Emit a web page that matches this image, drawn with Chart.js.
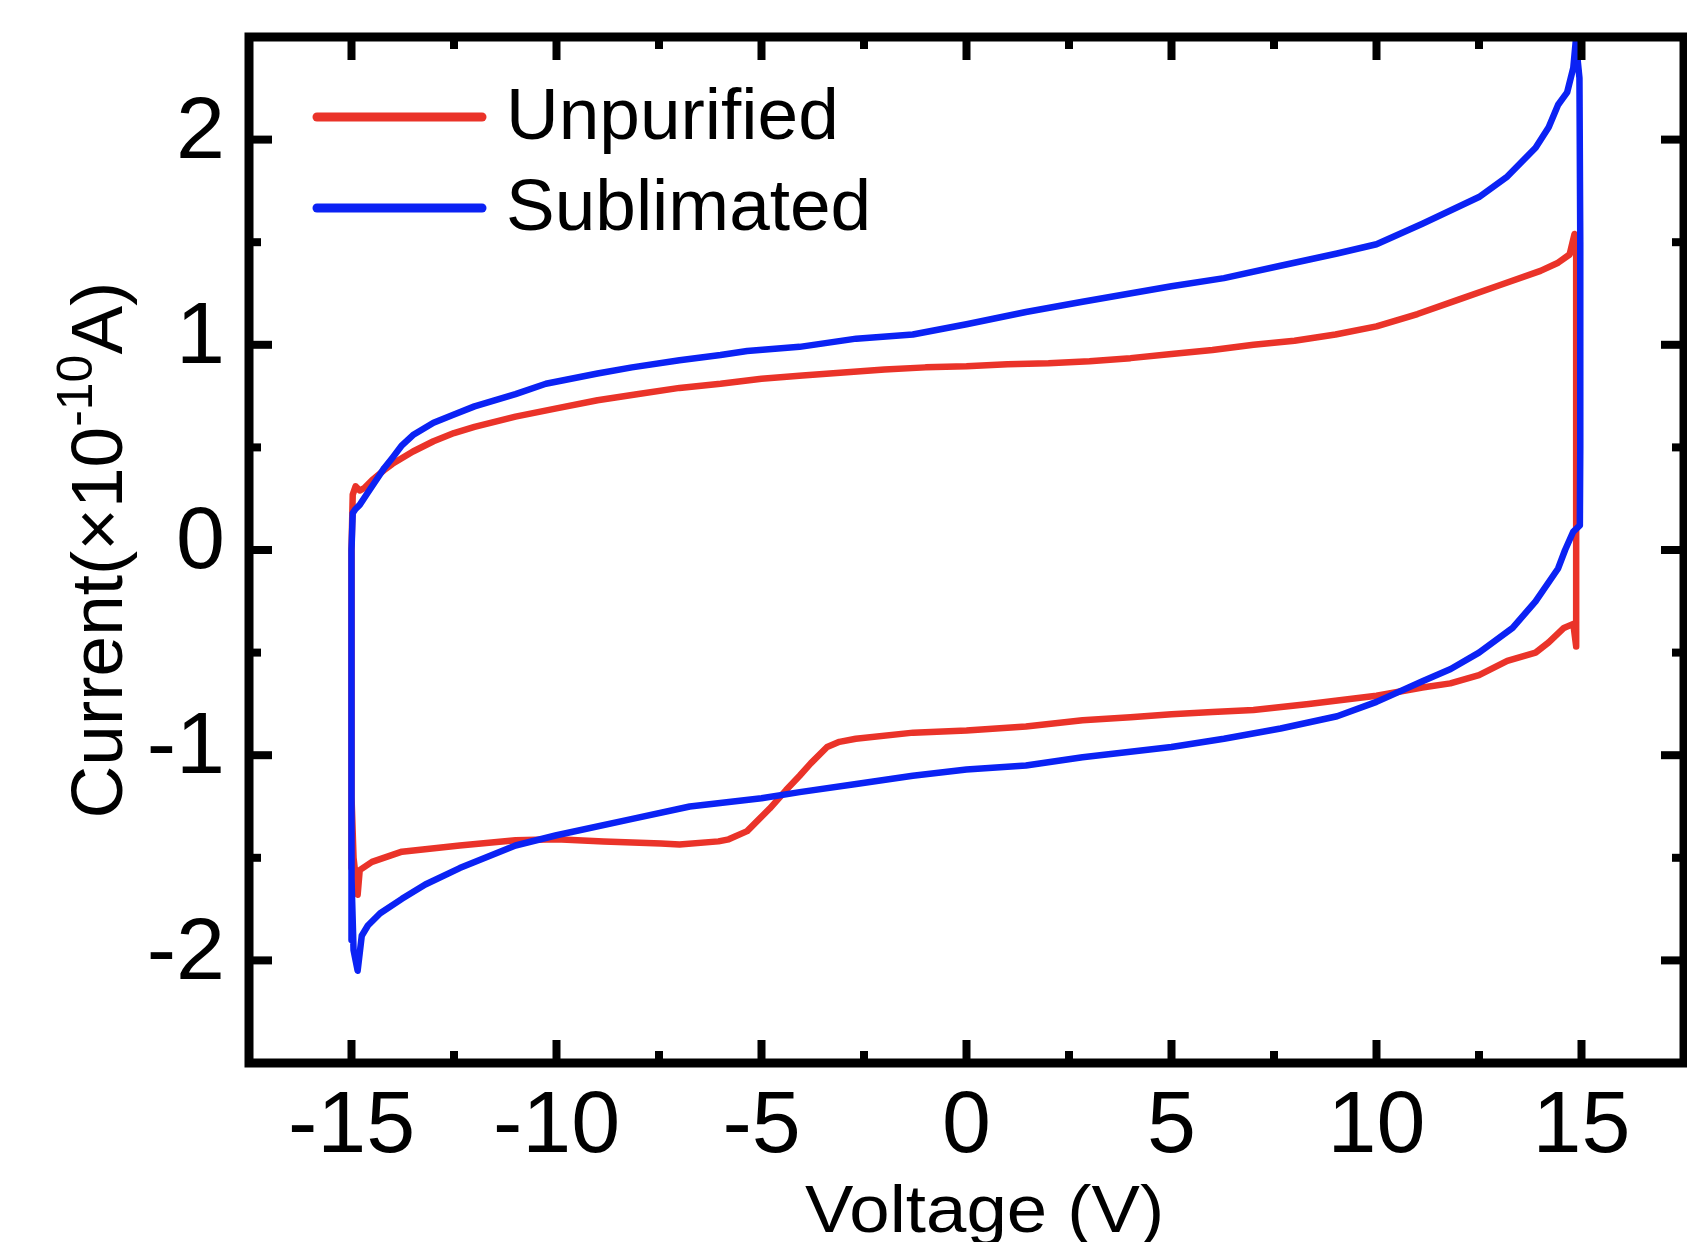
<!DOCTYPE html>
<html>
<head>
<meta charset="utf-8">
<script src="https://cdn.jsdelivr.net/npm/chart.js@4.4.1/dist/chart.umd.min.js"></script>
<style>
html,body{margin:0;padding:0;background:#fff;overflow:hidden}
#wrap{width:1687px;height:1242px;position:relative}
</style>
</head>
<body>
<div id="wrap"><canvas id="c" width="1687" height="1242"></canvas></div>
<script>
// ---------- data ----------
const seriesNames = ['Unpurified', 'Sublimated'];

const xTickValues = [-15, -10, -5, 0, 5, 10, 15];
const yTickValues = [-2, -1, 0, 1, 2];

const xTitle = 'Voltage (V)';
const yTitleMain = 'Current(\u00d710';
const yTitleSup = '-10';
const yTitleEnd = 'A)';

// Unpurified: closed loop (up the -15 V edge, forward sweep, down the +15 V edge, reverse sweep)
const voltageUnpurified = [
  -15.0, -15.0, -14.97, -14.9, -14.8, -14.7, -14.5, -14.2, -14.0, -13.5, -13.0, -12.5, -12.0,
  -11.0, -10.0, -9.0, -8.0, -7.0, -6.0, -5.0, -4.0, -3.0, -2.0, -1.0, 0.0, 1.0, 2.0, 3.0,
  4.0, 5.0, 6.0, 7.0, 8.0, 9.0, 10.0, 11.0, 12.0, 13.0, 14.0, 14.43, 14.71, 14.83,
  14.87, 14.87, 14.87, 14.8, 14.57, 14.2, 13.88, 13.19, 12.5, 11.8, 11.12, 10.0, 9.0, 8.35,
  7.0, 6.0, 5.0, 4.0, 2.83, 1.45, 0.0, -1.3, -2.7, -3.1, -3.4, -3.8, -4.07, -4.4, -4.8,
  -5.35, -5.8, -6.05, -7.0, -7.45, -8.85, -10.0, -11.0, -12.36, -13.77, -14.5, -14.8, -14.85,
  -14.95, -15.0
];
const currentUnpurified = [
  -1.55, 0.0, 0.27, 0.31, 0.29, 0.30, 0.34, 0.39, 0.42, 0.48, 0.53, 0.57, 0.60,
  0.65, 0.69, 0.73, 0.76, 0.79, 0.81, 0.835, 0.85, 0.865, 0.88, 0.89, 0.895, 0.905, 0.91, 0.92,
  0.935, 0.955, 0.975, 1.0, 1.02, 1.05, 1.09, 1.15, 1.22, 1.29, 1.36, 1.40, 1.44, 1.54,
  1.53, 0.5, -0.47, -0.36, -0.38, -0.45, -0.50, -0.54, -0.61, -0.65, -0.67, -0.71, -0.735, -0.75,
  -0.78, -0.79, -0.80, -0.815, -0.83, -0.86, -0.88, -0.89, -0.92, -0.935, -0.96, -1.04, -1.10, -1.17, -1.26,
  -1.37, -1.41, -1.42, -1.435, -1.43, -1.42, -1.41, -1.415, -1.44, -1.47, -1.52, -1.56, -1.68,
  -1.50, -1.20
];

// Sublimated: closed loop
const voltageSublimated = [
  -15.0, -15.0, -14.97, -14.9, -14.8, -14.6, -14.4, -14.2, -14.0, -13.77, -13.5, -13.0, -12.5,
  -12.0, -11.0, -10.26, -9.0, -8.16, -7.0, -6.0, -5.35, -4.07, -2.69, -1.31, 0.0, 1.45, 2.83,
  5.0, 6.28, 7.66, 9.04, 10.0, 11.12, 12.5, 13.19, 13.88, 14.2, 14.43, 14.65, 14.8, 14.86,
  14.95, 14.97, 14.97, 14.96, 14.8, 14.6, 14.43, 13.88, 13.32, 12.5, 11.81, 11.12, 10.0, 9.04,
  7.66, 6.28, 5.0, 2.83, 1.45, 0.0, -1.31, -2.69, -4.07, -5.0, -6.75, -8.15, -10.0, -11.0,
  -12.36, -13.2, -13.77, -14.3, -14.6, -14.75, -14.85, -14.95, -15.0
];
const currentSublimated = [
  -1.9, 0.0, 0.18, 0.20, 0.22, 0.28, 0.34, 0.40, 0.45, 0.51, 0.56, 0.62, 0.66,
  0.70, 0.76, 0.81, 0.86, 0.89, 0.925, 0.95, 0.97, 0.99, 1.03, 1.05, 1.10, 1.16, 1.21,
  1.285, 1.325, 1.385, 1.445, 1.49, 1.59, 1.72, 1.82, 1.96, 2.06, 2.17, 2.23, 2.35, 2.48,
  2.30, 1.5, 0.5, 0.12, 0.09, 0.0, -0.09, -0.25, -0.38, -0.50, -0.58, -0.64, -0.74, -0.81,
  -0.87, -0.92, -0.96, -1.01, -1.05, -1.07, -1.10, -1.14, -1.18, -1.21, -1.25, -1.31, -1.39, -1.44,
  -1.55, -1.63, -1.70, -1.77, -1.83, -1.88, -2.05, -1.95, -1.6
];

// ---------- styling ----------
const RED = '#ea3329';
const BLUE = '#0b22f4';
const FONT = "'Liberation Sans', Arial, Helvetica, sans-serif";

function pts(xs, ys) { return xs.map((v, i) => ({ x: v, y: ys[i] })); }

const decor = {
  id: 'decor',
  afterDatasetsDraw(chart) {
    const { ctx, chartArea: a, scales } = chart;
    const xs = scales.x, ys = scales.y;
    ctx.save();
    // frame
    ctx.strokeStyle = '#000';
    ctx.lineWidth = 9;
    ctx.lineJoin = 'miter';
    ctx.strokeRect(a.left, a.top, a.right - a.left, a.bottom - a.top);
    // inward ticks on all four sides
    ctx.lineWidth = 8;
    ctx.lineCap = 'butt';
    const seg = (x1, y1, x2, y2) => { ctx.beginPath(); ctx.moveTo(x1, y1); ctx.lineTo(x2, y2); ctx.stroke(); };
    const MAJ = 23, MIN = 12;
    const xMaj = xs.ticks.map(t => t.value);
    const yMaj = ys.ticks.map(t => t.value);
    const minors = (arr, lo, hi) => {
      const step = arr[1] - arr[0];
      const out = [];
      for (let v = arr[0] - step / 2; v < hi; v += step) if (v > lo + 1e-9 && v < hi - 1e-9) out.push(v);
      return out;
    };
    const xMin = minors(xMaj, xs.min, xs.max), yMin = minors(yMaj, ys.min, ys.max);
    xMaj.forEach(v => { const p = xs.getPixelForValue(v); seg(p, a.bottom, p, a.bottom - MAJ); seg(p, a.top, p, a.top + MAJ); });
    xMin.forEach(v => { const p = xs.getPixelForValue(v); seg(p, a.bottom, p, a.bottom - MIN); seg(p, a.top, p, a.top + MIN); });
    yMaj.forEach(v => { const p = ys.getPixelForValue(v); seg(a.left, p, a.left + MAJ, p); seg(a.right, p, a.right - MAJ, p); });
    yMin.forEach(v => { const p = ys.getPixelForValue(v); seg(a.left, p, a.left + MIN, p); seg(a.right, p, a.right - MIN, p); });

    // legend (inside, top-left)
    const legendY = [a.top + 80, a.top + 171];
    chart.data.datasets.forEach((ds, i) => {
      ctx.strokeStyle = ds.borderColor;
      ctx.lineWidth = 9;
      ctx.lineCap = 'round';
      seg(a.left + 68, legendY[i], a.left + 233, legendY[i]);
      ctx.fillStyle = '#000';
      ctx.font = '73px ' + FONT;
      ctx.textAlign = 'left';
      ctx.textBaseline = 'middle';
      ctx.fillText(ds.label, a.left + 257, legendY[i] + 2);
    });

    // x title
    ctx.save();
    ctx.fillStyle = '#000';
    ctx.font = '66px ' + FONT;
    ctx.textAlign = 'center';
    ctx.textBaseline = 'alphabetic';
    ctx.translate((a.left + a.right) / 2 + 18, 1232);
    ctx.scale(1.1, 1);
    ctx.fillText(xTitle, 0, 0);
    ctx.restore();

    // y title with superscript
    ctx.save();
    ctx.fillStyle = '#000';
    const fMain = '73px ' + FONT, fSup = '50px ' + FONT;
    ctx.font = fMain; const w1 = ctx.measureText(yTitleMain).width; const w3 = ctx.measureText(yTitleEnd).width;
    ctx.font = fSup; const w2 = ctx.measureText(yTitleSup).width;
    const total = w1 + w2 + w3;
    ctx.translate(122, (a.top + a.bottom) / 2);
    ctx.rotate(-Math.PI / 2);
    ctx.textAlign = 'left';
    ctx.textBaseline = 'alphabetic';
    let sx = -total / 2;
    ctx.font = fMain; ctx.fillText(yTitleMain, sx, 0); sx += w1;
    ctx.font = fSup; ctx.fillText(yTitleSup, sx, -30); sx += w2;
    ctx.font = fMain; ctx.fillText(yTitleEnd, sx, 0);
    ctx.restore();

    ctx.restore();
  }
};

new Chart(document.getElementById('c'), {
  type: 'scatter',
  data: {
    datasets: [
      { label: seriesNames[0], data: pts(voltageUnpurified, currentUnpurified), borderColor: RED, backgroundColor: RED, order: 1 },
      { label: seriesNames[1], data: pts(voltageSublimated, currentSublimated), borderColor: BLUE, backgroundColor: BLUE, order: 0 }
    ]
  },
  options: {
    responsive: false,
    animation: false,
    devicePixelRatio: 1,
    layout: { padding: { left: 0, top: 37, right: 3, bottom: 0 } },
    elements: {
      point: { radius: 0, hoverRadius: 0 },
      line: { borderWidth: 6.5, tension: 0, fill: false, borderJoinStyle: 'round', borderCapStyle: 'round' }
    },
    datasets: { scatter: { showLine: true } },
    plugins: { legend: { display: false }, tooltip: { enabled: false } },
    scales: {
      x: {
        type: 'linear', min: -17.5, max: 17.5,
        afterBuildTicks: s => { s.ticks = xTickValues.map(v => ({ value: v })); },
        afterFit: s => { s.height = 179; s.paddingLeft = 0; s.paddingRight = 0; },
        grid: { display: false, drawTicks: false },
        border: { display: false },
        ticks: { color: '#000', font: { family: FONT, size: 88 }, padding: 12, maxRotation: 0, autoSkip: false,
                 callback: v => String(v) }
      },
      y: {
        type: 'linear', min: -2.5, max: 2.5,
        afterBuildTicks: s => { s.ticks = yTickValues.map(v => ({ value: v })); },
        afterFit: s => { s.width = 249; s.paddingTop = 0; s.paddingBottom = 0; },
        grid: { display: false, drawTicks: false },
        border: { display: false },
        ticks: { color: '#000', font: { family: FONT, size: 88 }, padding: 24, labelOffset: -6, autoSkip: false,
                 callback: v => String(v) }
      }
    }
  },
  plugins: [decor]
});
</script>
</body>
</html>
